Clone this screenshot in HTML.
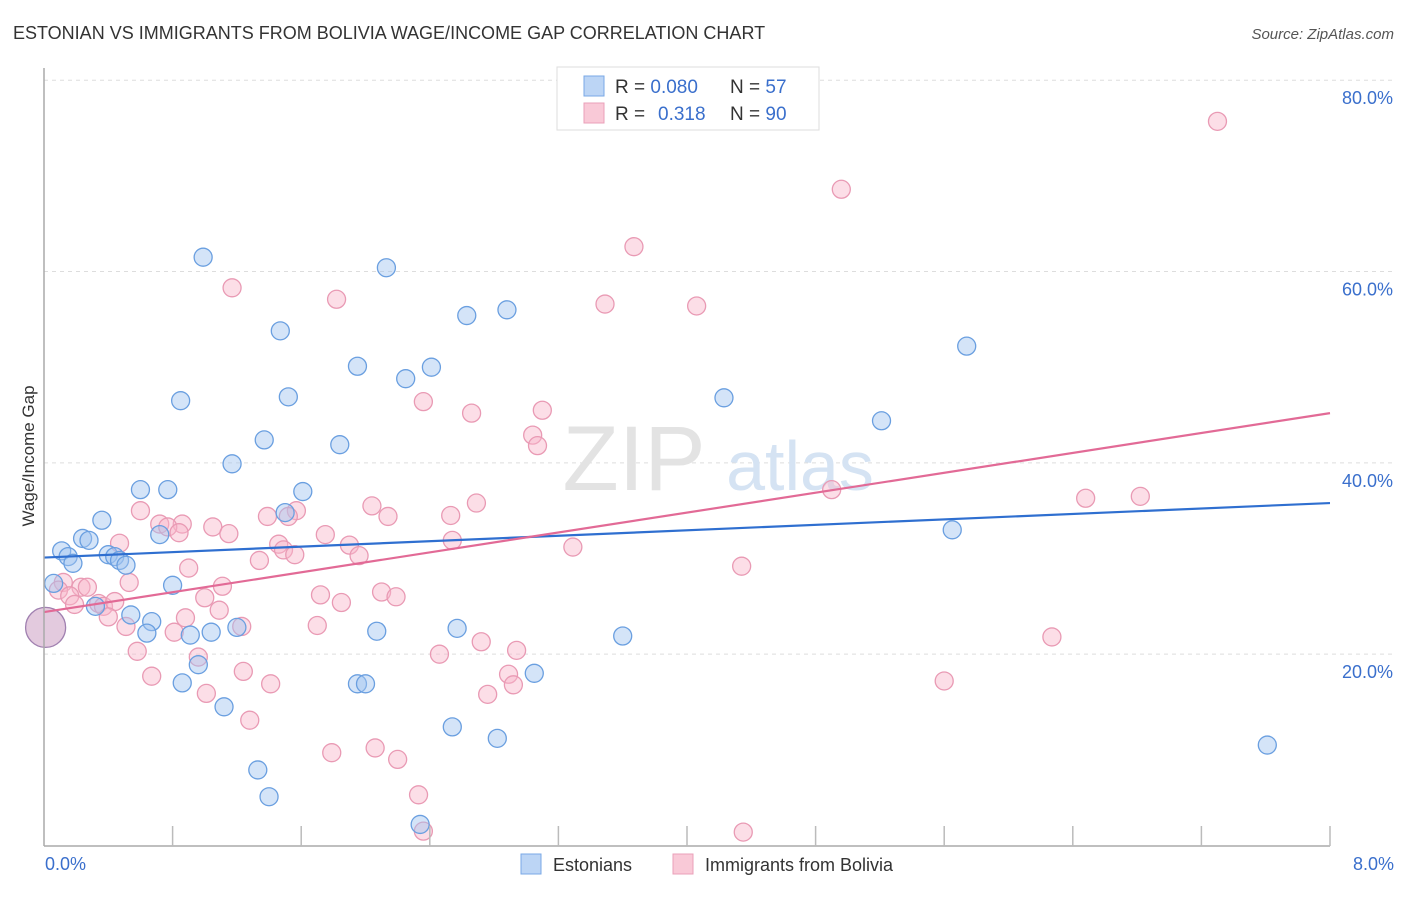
<!DOCTYPE html>
<html><head><meta charset="utf-8"><style>
body{margin:0;background:#fff;font-family:"Liberation Sans",sans-serif;}
svg text{font-family:"Liberation Sans",sans-serif;}
</style></head><body>
<svg id="chart" width="1406" height="892" xmlns="http://www.w3.org/2000/svg">
<text x="13" y="39" font-size="18" fill="#333">ESTONIAN VS IMMIGRANTS FROM BOLIVIA WAGE/INCOME GAP CORRELATION CHART</text>
<text x="1394" y="39" font-size="15" fill="#555" text-anchor="end" font-style="italic">Source: ZipAtlas.com</text>
<g id="grid"></g>
<g><text x="634" y="490" font-size="92" fill="#e3e3e3" text-anchor="middle" font-family="Liberation Serif">ZIP</text><text x="800" y="490" font-size="70" fill="#d5e3f3" text-anchor="middle">atlas</text></g>
<g id="pts"></g>
<g id="trends"></g>
<line x1="44" y1="68" x2="44" y2="846" stroke="#aaa" stroke-width="1.5"/>
<line x1="44" y1="846" x2="1330" y2="846" stroke="#aaa" stroke-width="1.5"/>
<g id="ticks"></g>
<text transform="translate(34,456) rotate(-90)" font-size="17" fill="#333" text-anchor="middle">Wage/Income Gap</text>
<text x="45" y="870" font-size="18" fill="#3a6fcc">0.0%</text>
<text x="1394" y="870" font-size="18" fill="#3a6fcc" text-anchor="end">8.0%</text>
<g>
<rect x="557" y="67" width="262" height="63" fill="#fff" stroke="#ddd"/>
<rect x="584" y="76" width="20" height="20" fill="#bcd5f5" stroke="#7aa8e6"/>
<rect x="584" y="103" width="20" height="20" fill="#f9c9d7" stroke="#eaa0b8"/>
<text x="615" y="93" font-size="19" fill="#333">R = <tspan fill="#3a6fcc">0.080</tspan><tspan x="730">N = </tspan><tspan fill="#3a6fcc">57</tspan></text>
<text x="615" y="120" font-size="19" fill="#333">R = <tspan fill="#3a6fcc" x="658">0.318</tspan><tspan x="730">N = </tspan><tspan fill="#3a6fcc">90</tspan></text>
</g>
<g>
<rect x="521" y="854" width="20" height="20" fill="#bcd5f5" stroke="#7aa8e6"/>
<text x="553" y="871" font-size="18" fill="#333">Estonians</text>
<rect x="673" y="854" width="20" height="20" fill="#f9c9d7" stroke="#eaa0b8"/>
<text x="705" y="871" font-size="18" fill="#333">Immigrants from Bolivia</text>
</g>
</svg>
<script>
const yTicks=[20,40,60,80];
const yTickLabels=["20.0%","40.0%","60.0%","80.0%"];
const xTicks=[0.8,1.6,2.4,3.2,4.0,4.8,5.6,6.4,7.2,8.0];
const blueX=[0.99,2.13,1.47,2.63,2.88,5.74,1.95,2.41,2.25,0.85,1.52,4.23,5.21,1.37,1.84,1.17,0.60,0.77,1.61,1.50,0.36,0.72,0.24,0.28,0.11,0.15,0.18,0.40,0.44,0.47,0.51,5.65,0.06,0.80,0.32,0.54,0.67,0.64,0.91,1.04,1.20,2.07,2.57,3.60,0.96,3.05,0.86,1.95,2.00,1.12,2.54,2.82,1.33,1.40,2.34,7.61];
const blueY=[61.5,60.4,53.8,55.4,56.0,52.2,50.1,50.0,48.8,46.5,46.9,46.8,44.4,42.4,41.9,39.9,37.2,37.2,37.0,34.8,34.0,32.5,32.1,31.9,30.8,30.2,29.5,30.4,30.2,29.8,29.3,33.0,27.4,27.2,25.0,24.1,23.4,22.2,22.0,22.3,22.8,22.4,22.7,21.9,18.9,18.0,17.0,16.9,16.9,14.5,12.4,11.2,7.9,5.1,2.2,10.5];
const pinkX=[7.30,4.96,3.67,1.17,1.82,3.49,4.06,2.36,3.10,2.66,3.04,3.07,4.90,6.48,6.82,2.69,2.04,2.53,2.14,0.60,1.39,1.57,1.52,0.72,0.86,0.77,1.05,1.15,0.84,1.75,2.54,0.47,1.46,1.90,1.49,1.56,1.96,3.29,1.34,4.34,0.90,0.12,0.23,0.27,0.53,1.11,2.10,2.19,1.72,0.09,0.16,0.19,0.34,0.37,0.44,1.00,1.85,1.09,0.40,0.88,0.51,1.70,1.23,0.81,2.72,6.27,2.94,0.58,2.46,0.96,1.24,2.89,0.67,1.41,5.60,2.76,2.92,1.01,1.28,1.79,2.06,2.20,2.33,2.36,4.35];
const pinkY=[75.7,68.6,62.6,58.3,57.1,56.6,56.4,46.4,45.5,45.2,42.9,41.8,37.2,36.3,36.5,35.8,35.5,34.5,34.4,35.0,34.4,35.0,34.4,33.6,33.6,33.3,33.3,32.6,32.7,32.5,31.9,31.6,31.5,31.4,30.9,30.4,30.3,31.2,29.8,29.2,29.0,27.5,27.0,27.0,27.5,27.1,26.5,26.0,26.2,26.7,26.1,25.2,25.3,25.0,25.5,25.9,25.4,24.6,23.9,23.8,22.9,23.0,22.9,22.3,21.3,21.8,20.4,20.3,20.0,19.7,18.2,17.9,17.7,16.9,17.2,15.8,16.8,15.9,13.1,9.7,10.2,9.0,5.3,1.5,1.4];
const bigX=[0.01], bigY=[22.8];
const blueTrend=[30.1,35.8]; // y at x=0 and x=8
const pinkTrend=[24.4,45.2];
const NS="http://www.w3.org/2000/svg";
const sx=v=>44+v*160.75, sy=v=>845.5-v*9.566;
function mk(tag,attrs,parent){const e=document.createElementNS(NS,tag);for(const k in attrs)e.setAttribute(k,attrs[k]);parent.appendChild(e);return e;}
const grid=document.getElementById('grid'),ticks=document.getElementById('ticks'),pts=document.getElementById('pts'),tr=document.getElementById('trends');
yTicks.forEach((t,i)=>{
 const l=mk('line',{x1:44,x2:1394,y1:sy(t),y2:sy(t),stroke:'#ddd','stroke-dasharray':'4,4'},grid);
 
 
 const tx=mk('text',{x:1393,y:sy(t)+24,'font-size':18,fill:'#3a6fcc','text-anchor':'end'},ticks);
 tx.textContent=yTickLabels[i];
 
 
});
xTicks.forEach(t=>{
 const l=mk('line',{x1:sx(t),x2:sx(t),y1:826,y2:846,stroke:'#bbb','stroke-width':1.5},ticks);
 
 
});
function dots(X,Y,fill,stroke,r,name){X.forEach((x,i)=>{
 const c=mk('circle',{cx:sx(x),cy:sy(Y[i]),r:r,fill:fill,stroke:stroke,'stroke-width':1.3},pts);
 
 
});}
dots(pinkX,pinkY,'rgba(248,182,202,0.45)','#e99ab4',9,'bolivia-point');
dots(blueX,blueY,'rgba(160,196,240,0.45)','#6a9fe0',9,'estonian-point');
dots(bigX,bigY,'rgba(200,150,190,0.5)','#a080b0',20,'large-overlap-point');
const bl=mk('line',{x1:sx(0),y1:sy(blueTrend[0]),x2:sx(8),y2:sy(blueTrend[1]),stroke:'#2f6fd0','stroke-width':2.2},tr);


const pl=mk('line',{x1:sx(0),y1:sy(pinkTrend[0]),x2:sx(8),y2:sy(pinkTrend[1]),stroke:'#e26a96','stroke-width':2.2},tr);


</script>
</body></html>
